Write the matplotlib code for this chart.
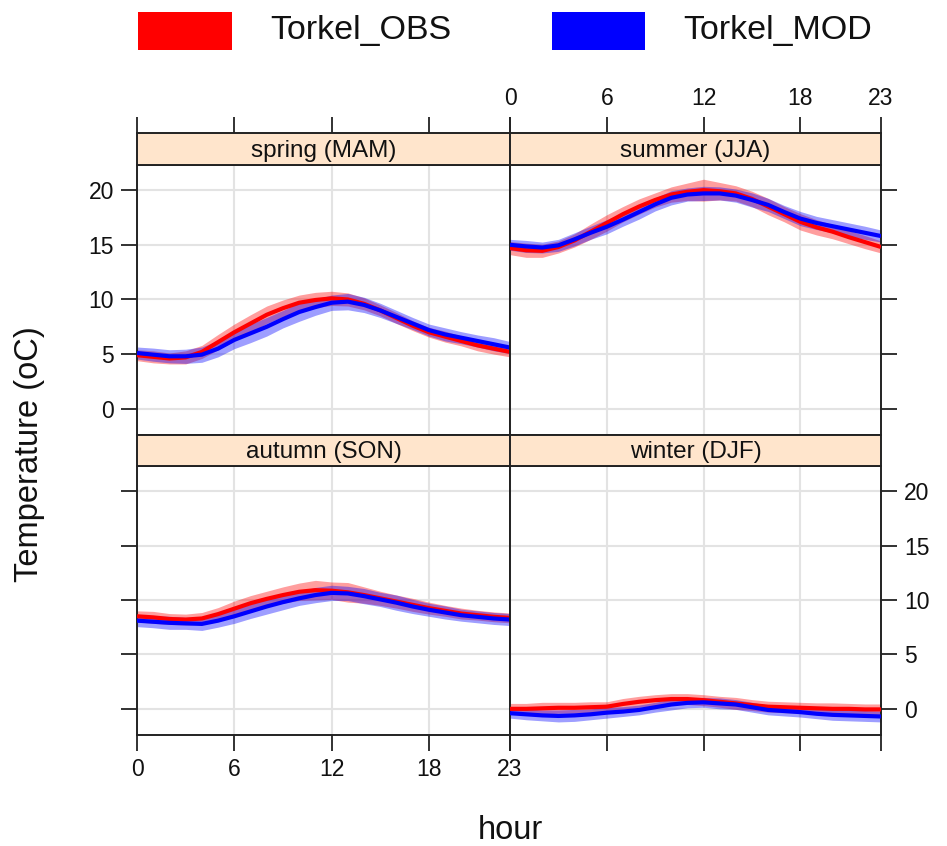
import matplotlib
matplotlib.use('Agg')
import matplotlib.pyplot as plt
from matplotlib.patches import Rectangle

plt.rcParams['font.family'] = ['Liberation Sans', 'DejaVu Sans']

hours = list(range(24))
seasons = ['spring (MAM)', 'summer (JJA)', 'autumn (SON)', 'winter (DJF)']
series_names = ['Torkel_OBS', 'Torkel_MOD']
series_colors = ['#FF0000', '#0000FF']
x_ticks = [0, 6, 12, 18, 23]
y_ticks = [0, 5, 10, 15, 20]

spring_obs = [4.9, 4.75, 4.6, 4.7, 5.2, 6.1, 7.0, 7.8, 8.6, 9.2, 9.7, 9.95,
              10.1, 10.0, 9.6, 9.0, 8.3, 7.6, 7.0, 6.6, 6.2, 5.8, 5.5, 5.2]
spring_mod = [5.1, 4.95, 4.8, 4.8, 4.95, 5.5, 6.3, 6.9, 7.5, 8.2, 8.85, 9.3,
              9.7, 9.8, 9.5, 9.0, 8.4, 7.8, 7.2, 6.8, 6.5, 6.2, 5.9, 5.6]
summer_obs = [14.7, 14.5, 14.45, 14.8, 15.4, 16.2, 17.0, 17.8, 18.5, 19.1, 19.6, 19.85,
              20.0, 19.9, 19.7, 19.2, 18.5, 17.8, 17.1, 16.6, 16.2, 15.7, 15.25, 14.8]
summer_mod = [15.0, 14.85, 14.75, 14.95, 15.5, 16.1, 16.65, 17.3, 18.0, 18.7, 19.3, 19.6,
              19.7, 19.7, 19.5, 19.1, 18.65, 18.0, 17.4, 17.0, 16.7, 16.4, 16.1, 15.8]
autumn_obs = [8.5, 8.4, 8.25, 8.2, 8.3, 8.7, 9.2, 9.7, 10.1, 10.45, 10.75, 10.9,
              10.85, 10.7, 10.45, 10.15, 9.85, 9.55, 9.25, 9.0, 8.75, 8.6, 8.45, 8.35]
autumn_mod = [8.1, 8.0, 7.9, 7.85, 7.8, 8.1, 8.5, 8.95, 9.4, 9.8, 10.15, 10.45,
              10.65, 10.6, 10.35, 10.05, 9.75, 9.4, 9.1, 8.85, 8.6, 8.45, 8.3, 8.2]
winter_obs = [0.0, 0.0, 0.05, 0.1, 0.1, 0.15, 0.2, 0.45, 0.65, 0.8, 0.9, 0.9,
              0.8, 0.65, 0.5, 0.35, 0.2, 0.15, 0.1, 0.05, 0.0, 0.0, -0.05, -0.05]
winter_mod = [-0.4, -0.5, -0.6, -0.65, -0.6, -0.5, -0.35, -0.25, -0.1, 0.15, 0.4, 0.55,
              0.6, 0.5, 0.4, 0.15, -0.1, -0.2, -0.3, -0.45, -0.55, -0.6, -0.65, -0.7]

spring_obs_ci = [0.5, 0.55, 0.5, 0.6, 0.6, 0.7, 0.75, 0.8, 0.8, 0.75, 0.7, 0.7,
                 0.65, 0.6, 0.55, 0.5, 0.5, 0.45, 0.45, 0.5, 0.45, 0.5, 0.5, 0.45]
spring_mod_ci = [0.55, 0.6, 0.6, 0.65, 0.7, 0.75, 0.8, 0.85, 0.85, 0.8, 0.85, 0.75,
                 0.7, 0.75, 0.7, 0.65, 0.6, 0.55, 0.55, 0.6, 0.55, 0.55, 0.6, 0.55]
summer_obs_ci = [0.6, 0.65, 0.6, 0.55, 0.6, 0.7, 0.75, 0.7, 0.7, 0.65, 0.7, 0.8,
                 1.0, 0.8, 0.7, 0.7, 0.75, 0.7, 0.75, 0.7, 0.65, 0.6, 0.6, 0.55]
summer_mod_ci = [0.5, 0.55, 0.5, 0.55, 0.6, 0.6, 0.65, 0.6, 0.65, 0.6, 0.65, 0.6,
                 0.65, 0.6, 0.6, 0.65, 0.6, 0.6, 0.65, 0.6, 0.6, 0.6, 0.6, 0.55]
autumn_obs_ci = [0.5, 0.55, 0.5, 0.5, 0.55, 0.6, 0.7, 0.7, 0.7, 0.75, 0.8, 0.9,
                 0.8, 0.9, 0.75, 0.65, 0.6, 0.6, 0.55, 0.5, 0.5, 0.45, 0.45, 0.45]
autumn_mod_ci = [0.55, 0.55, 0.6, 0.55, 0.6, 0.6, 0.65, 0.65, 0.7, 0.7, 0.65, 0.7,
                 0.7, 0.65, 0.7, 0.65, 0.7, 0.65, 0.6, 0.6, 0.55, 0.55, 0.55, 0.55]
winter_obs_ci = [0.5, 0.5, 0.55, 0.5, 0.5, 0.5, 0.45, 0.5, 0.5, 0.5, 0.5, 0.5,
                 0.5, 0.5, 0.55, 0.5, 0.5, 0.5, 0.5, 0.5, 0.55, 0.5, 0.5, 0.5]
winter_mod_ci = [0.45, 0.5, 0.5, 0.55, 0.55, 0.5, 0.5, 0.45, 0.45, 0.45, 0.5, 0.45,
                 0.45, 0.5, 0.45, 0.45, 0.45, 0.45, 0.45, 0.45, 0.5, 0.5, 0.5, 0.5]

season_data = {
    'spring (MAM)': [(spring_obs, spring_obs_ci), (spring_mod, spring_mod_ci)],
    'summer (JJA)': [(summer_obs, summer_obs_ci), (summer_mod, summer_mod_ci)],
    'autumn (SON)': [(autumn_obs, autumn_obs_ci), (autumn_mod, autumn_mod_ci)],
    'winter (DJF)': [(winter_obs, winter_obs_ci), (winter_mod, winter_mod_ci)],
}

W, H = 947, 846
fig = plt.figure(figsize=(W / 100, H / 100), dpi=100)

def fx(px):
    return px / W

def fy(py):
    return 1 - py / H

col_x = [(137, 510), (510, 881)]
row_y = [((133, 165), (165, 435)), ((435, 466), (466, 735))]

frame_col = '#222222'
text_col = '#111111'
tick_len = 11.5
tick_w = 1.3
tick_fs = 16.5

for idx, season in enumerate(seasons):
    r, c = divmod(idx, 2)
    x0, x1 = col_x[c]
    (s0, s1), (p0, p1) = row_y[r]
    ax = fig.add_axes([fx(x0), fy(p1), fx(x1) - fx(x0), fy(p0) - fy(p1)])
    sax = fig.add_axes([fx(x0), fy(s1), fx(x1) - fx(x0), fy(s0) - fy(s1)])

    for spine in list(ax.spines.values()) + list(sax.spines.values()):
        spine.set_color(frame_col)
        spine.set_linewidth(1.4)

    ax.set_xlim(0, 23)
    ax.set_ylim(-2.4, 22.3)
    for xv in [0, 6, 12, 18]:
        ax.axvline(xv, color='#E3E3E3', lw=1.5, zorder=0)
    for yv in y_ticks:
        ax.axhline(yv, color='#E3E3E3', lw=1.5, zorder=0)

    for (vals, ci), col in zip(season_data[season], series_colors):
        lo = [v - e for v, e in zip(vals, ci)]
        hi = [v + e for v, e in zip(vals, ci)]
        ax.fill_between(hours, lo, hi, color=col, alpha=0.38, lw=0, zorder=2)
        ax.plot(hours, vals, color=col, lw=3, zorder=3, solid_capstyle='butt',
                solid_joinstyle='round')

    ax.tick_params(direction='out', length=tick_len, width=tick_w, color=frame_col,
                   labelsize=tick_fs, labelcolor=text_col, pad=5)
    ax.set_xticks(x_ticks)
    ax.set_yticks(y_ticks)
    left = (c == 0)
    bottom = (r == 1)
    ax.tick_params(axis='y', left=left, right=not left, labelleft=(left and r == 0),
                   labelright=((not left) and r == 1))
    ax.tick_params(axis='x', bottom=bottom, top=False, labelbottom=(bottom and c == 0),
                   labeltop=False)

    sax.set_facecolor('#FFE5CC')
    sax.set_xlim(0, 23)
    sax.set_ylim(0, 1)
    sax.set_yticks([])
    sax.set_xticks(x_ticks)
    if r == 0:
        sax.tick_params(axis='x', direction='out', length=tick_len, width=tick_w,
                        color=frame_col, bottom=False, top=True, labelbottom=False,
                        labeltop=(c == 1), labelsize=tick_fs, labelcolor=text_col, pad=5)
    else:
        sax.tick_params(axis='x', bottom=False, top=False, labelbottom=False, labeltop=False)
    sax.text(11.5, 0.45, season, ha='center', va='center', fontsize=17.5, color=text_col)

# legend
leg_items = [(138, 232, 270), (552, 645, 683)]
for (rx0, rx1, tx), name, col in zip(leg_items, series_names, series_colors):
    fig.patches.append(Rectangle((fx(rx0), fy(50)), fx(rx1) - fx(rx0), fy(12) - fy(50),
                                 transform=fig.transFigure, facecolor=col, edgecolor='none'))
    fig.text(fx(tx), fy(31), name, ha='left', va='center', fontsize=24.5, color=text_col)

fig.text(fx(30), fy(454), 'Temperature (oC)', rotation=90, ha='center', va='center',
         fontsize=23.5, color=text_col)
fig.text(fx(510), fy(830), 'hour', ha='center', va='center', fontsize=23.5, color=text_col)

fig.savefig('out.png', dpi=100)
